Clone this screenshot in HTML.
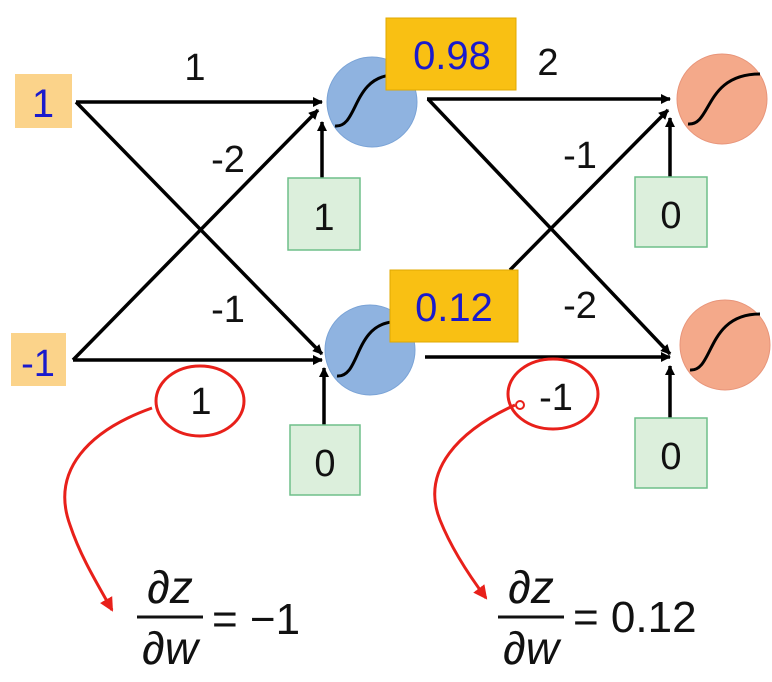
<!DOCTYPE html>
<html><head><meta charset="utf-8"><style>
html,body{margin:0;padding:0;background:#fff;}
svg{display:block;}
text{font-family:"Liberation Sans",sans-serif;}
</style></head><body>
<svg width="772" height="682" viewBox="0 0 772 682" xmlns="http://www.w3.org/2000/svg">
<defs>
<marker id="ar" markerWidth="10" markerHeight="10" refX="9" refY="5" orient="auto" markerUnits="userSpaceOnUse">
<path d="M0,0 L10,5 L0,10 Z" fill="#000"/></marker>
<marker id="rr" markerWidth="14" markerHeight="14" refX="12" refY="7" orient="auto" markerUnits="userSpaceOnUse">
<path d="M0,0 L14,7 L0,14 Z" fill="#e8201a"/></marker>
</defs>
<rect x="15" y="74" width="57" height="54" fill="#fbd38a"/>
<text x="43" y="117" font-size="40" fill="#1a1acc" text-anchor="middle">1</text>
<rect x="11" y="333" width="55" height="53" fill="#fbd38a"/>
<text x="38" y="376" font-size="38" fill="#1a1acc" text-anchor="middle">-1</text>
<circle cx="372" cy="102" r="45" fill="#8fb3e0" stroke="#7aa3d6"/>
<circle cx="370" cy="350" r="45" fill="#8fb3e0" stroke="#7aa3d6"/>
<circle cx="722" cy="99" r="45" fill="#f4a98a" stroke="#e8957a"/>
<circle cx="725" cy="345" r="45" fill="#f4a98a" stroke="#e8957a"/>
<g fill="none" stroke="#000" stroke-width="3">
<path d="M335,126 C358,128 352,78 392,75"/>
<path d="M337,376 C360,378 354,326 392,322"/>
<path d="M688,124 C712,126 704,74 760,74"/>
<path d="M690,370 C714,372 706,314 760,314"/>
</g>
<g stroke="#000" stroke-width="3.5" marker-end="url(#ar)">
<line x1="76" y1="102" x2="322" y2="102"/>
<line x1="76" y1="102" x2="322" y2="354"/>
<line x1="73" y1="360" x2="322" y2="360"/>
<line x1="73" y1="360" x2="318" y2="110"/>
<line x1="322" y1="178" x2="322" y2="122"/>
<line x1="324" y1="425" x2="324" y2="368"/>
<line x1="427" y1="99" x2="670" y2="99"/>
<line x1="428" y1="99" x2="670" y2="354"/>
<line x1="425" y1="357" x2="670" y2="357"/>
<line x1="510" y1="270" x2="668" y2="110"/>
<line x1="670" y1="177" x2="670" y2="118"/>
<line x1="670" y1="418" x2="670" y2="366"/>
</g>
<rect x="386" y="18" width="130" height="72" fill="#f9c013" stroke="#e0a800"/>
<text x="452" y="69" font-size="40" fill="#1a1acc" text-anchor="middle">0.98</text>
<rect x="390" y="270" width="128" height="72" fill="#f9c013" stroke="#e0a800"/>
<text x="454" y="321" font-size="40" fill="#1a1acc" text-anchor="middle">0.12</text>
<g fill="#dcefdc" stroke="#6fbf8a" stroke-width="1.5">
<rect x="288" y="178" width="72" height="72"/>
<rect x="290" y="425" width="70" height="70"/>
<rect x="635" y="177" width="72" height="70"/>
<rect x="635" y="418" width="72" height="70"/>
</g>
<g font-size="38" fill="#111" text-anchor="middle">
<text x="324" y="230">1</text>
<text x="325" y="476">0</text>
<text x="671" y="228">0</text>
<text x="671" y="469">0</text>
<text x="195" y="80">1</text>
<text x="228" y="172">-2</text>
<text x="228" y="322">-1</text>
<text x="548" y="75">2</text>
<text x="580" y="168">-1</text>
<text x="580" y="318">-2</text>
<text x="201" y="414">1</text>
<text x="556" y="410">-1</text>
</g>
<g fill="none" stroke="#e8201a" stroke-width="3">
<ellipse cx="200" cy="401" rx="44" ry="35"/>
<ellipse cx="553" cy="394" rx="45" ry="35"/>
<path d="M152,408 C90,430 50,470 70,525 C80,555 95,580 112,610" marker-end="url(#rr)"/>
<path d="M515,405 C460,430 420,470 440,520 C450,545 465,570 486,598" marker-end="url(#rr)"/>
</g>
<circle cx="520" cy="405" r="4" fill="none" stroke="#e8201a" stroke-width="2"/>
<g font-family="Liberation Serif,serif" fill="#111">
<text x="170" y="603" font-size="46" font-style="italic" text-anchor="middle">∂z</text>
<line x1="137" y1="617" x2="203" y2="617" stroke="#111" stroke-width="3"/>
<text x="170" y="664" font-size="46" font-style="italic" text-anchor="middle">∂w</text>
<text x="212" y="634" font-size="44">= −1</text>
<text x="531" y="603" font-size="46" font-style="italic" text-anchor="middle">∂z</text>
<line x1="498" y1="617" x2="564" y2="617" stroke="#111" stroke-width="3"/>
<text x="531" y="664" font-size="46" font-style="italic" text-anchor="middle">∂w</text>
<text x="573" y="632" font-size="44">= 0.12</text>
</g>
</svg>
</body></html>
